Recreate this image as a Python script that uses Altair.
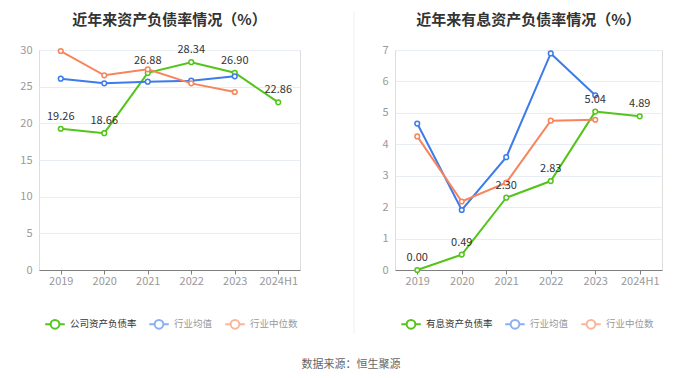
import altair as alt
import pandas as pd

years = ["2019", "2020", "2021", "2022", "2023", "2024H1"]

left_title = "近年来资产负债率情况（%）"
left_names = ["公司资产负债率", "行业均值", "行业中位数"]
left_company = [19.26, 18.66, 26.88, 28.34, 26.90, 22.86]
left_mean = [26.09, 25.45, 25.68, 25.82, 26.41, None]
left_median = [29.86, 26.55, 27.36, 25.45, 24.27, None]

right_title = "近年来有息资产负债率情况（%）"
right_names = ["有息资产负债率", "行业均值", "行业中位数"]
right_company = [0.00, 0.49, 2.30, 2.83, 5.04, 4.89]
right_mean = [4.66, 1.91, 3.59, 6.89, 5.56, None]
right_median = [4.25, 2.18, 2.78, 4.75, 4.78, None]

source_text = "数据来源：恒生聚源"

colors = ["#52c41a", "#3d7bea", "#f7845a"]
FONT = "Noto Sans CJK SC"
SYMBOL = "M-1,0L-0.45,0M0.45,0L1,0M-0.45,0A0.45,0.45,0,1,1,0.45,0A0.45,0.45,0,1,1,-0.45,0"


def make_df(names, series_list):
    rows = []
    for name, vals in zip(names, series_list):
        for y, v in zip(years, vals):
            if v is not None:
                rows.append({"year": y, "series": name, "value": v, "label": f"{v:.2f}"})
    return pd.DataFrame(rows)


def panel(title, names, series_list, ymax, yvals, width, divider=False):
    df = make_df(names, series_list)
    color_scale = alt.Scale(domain=names, range=colors)
    x = alt.X("year:O", sort=years, scale=alt.Scale(domain=years),
              axis=alt.Axis(title=None, labelAngle=0, domainColor="#7f7f7f", tickColor="#7f7f7f",
                            tickSize=4, labelColor="#999999", labelFontSize=11, labelPadding=1,
                            grid=False))
    y = alt.Y("value:Q", scale=alt.Scale(domain=[0, ymax], nice=False, zero=True),
              axis=alt.Axis(title=None, values=yvals, grid=True, gridColor="#e8ecf4", domain=False,
                            ticks=False, labelColor="#999999", labelFontSize=11, labelPadding=7))
    first = names[0]
    legend = alt.Legend(
        orient="none", legendX=5, legendY=263, direction="horizontal", title=None,
        symbolType=SYMBOL, symbolSize=380, symbolStrokeWidth=2, symbolFillColor="white",
        labelFontSize=9.5, labelFont=FONT, labelOffset=4, columnPadding=8,
        padding=0,
        labelColor=alt.ExprRef(f"datum.value === '{first}' ? '#333333' : '#999999'"),
        symbolOpacity=alt.ExprRef(f"datum.value === '{first}' ? 1 : 0.6"),
    )
    base = alt.Chart(df)
    line = base.mark_line(strokeWidth=2).encode(
        x=x, y=y, color=alt.Color("series:N", scale=color_scale, legend=legend, sort=names))
    pts = base.mark_point(shape="circle", filled=False, fill="white", fillOpacity=1, opacity=1,
                          size=22, strokeWidth=1.5).encode(
        x=x, y=y, color=alt.Color("series:N", scale=color_scale, legend=None, sort=names))
    txt = base.transform_filter(alt.datum.series == first).mark_text(
        dy=-12, fontSize=11, color="#333333", font=FONT).encode(x=x, y=y, text="label:N")
    layers = [line, pts, txt]
    offset = 16
    if divider:
        rule = alt.Chart(pd.DataFrame({"d": [0]})).mark_rule(color="#f0f0f0", strokeWidth=1).encode(
            x=alt.value(-41), y=alt.value(-39), y2=alt.value(284))
        layers = [rule] + layers
        offset = -17
    return alt.layer(*layers).properties(
        width=width, height=220,
        title=alt.TitleParams(title, anchor="middle", frame="group", fontSize=15, font=FONT,
                              fontWeight="bold", color="#333333", offset=offset),
    ).resolve_scale(color="independent")


left = panel(left_title, left_names, [left_company, left_mean, left_median], 30,
             [0, 5, 10, 15, 20, 25, 30], 261)
right = panel(right_title, right_names, [right_company, right_mean, right_median], 7,
              [0, 1, 2, 3, 4, 5, 6, 7], 267, divider=True)

chart = alt.hconcat(left, right, spacing=52).resolve_scale(color="independent").properties(
    padding={"left": 11, "top": 2, "right": 0, "bottom": 0},
    title=alt.TitleParams(source_text, orient="bottom", anchor="middle", fontSize=11, font=FONT,
                          fontWeight="normal", color="#666666", offset=24, dx=10),
).configure_view(stroke=None).configure(font=FONT)

chart.save("out.html", embed_options={"renderer": "svg", "actions": False})
